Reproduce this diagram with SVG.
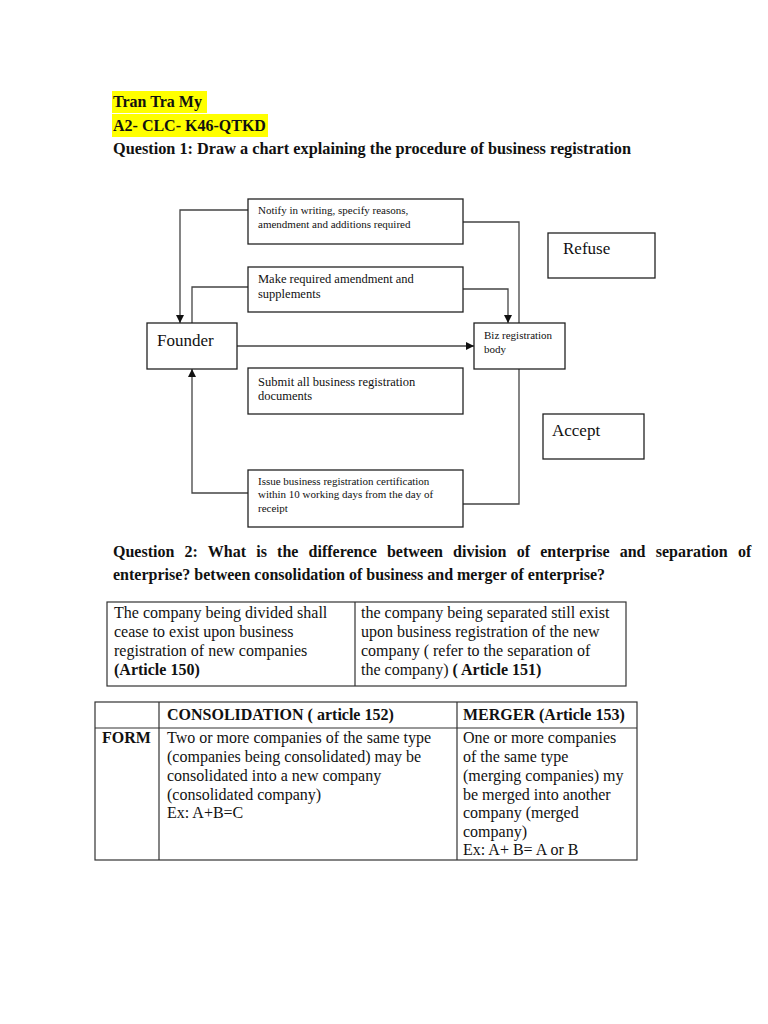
<svg xmlns="http://www.w3.org/2000/svg" width="768" height="1024" viewBox="0 0 768 1024">
<style>
.t{font-family:"Liberation Serif","Times New Roman",serif;fill:#111}
.b{font-weight:bold}
.h16{font-size:16px}
.box{fill:#fff;stroke:#222;stroke-width:1.3}
.con{fill:none;stroke:#444;stroke-width:1.3}
.grid{fill:none;stroke:#333;stroke-width:1.2}
.hl{fill:#ffff00}
</style>
<defs>
<marker id="arr" markerWidth="8" markerHeight="8" refX="8" refY="4" orient="auto" markerUnits="userSpaceOnUse">
<path d="M0,0 L8,4 L0,8 z" fill="#111"/>
</marker>
</defs>
<rect width="768" height="1024" fill="#fff"/>

<g id="header">
<rect class="hl" x="112" y="91" width="95" height="22"/>
<rect class="hl" x="112" y="114" width="156" height="23"/>
<text class="t b h16" x="113" y="107">Tran Tra My</text>
<text class="t b h16" x="113" y="131">A2- CLC- K46-QTKD</text>
<text class="t b h16" x="113" y="154" textLength="518" lengthAdjust="spacingAndGlyphs">Question 1: Draw a chart explaining the procedure of business registration</text>
</g>

<g id="connectors">
<polyline class="con" points="248,210 180,210 180,323" marker-end="url(#arr)"/>
<polyline class="con" points="519,323 519,222 463,222"/>
<polyline class="con" points="192,323 192,287 248,287"/>
<polyline class="con" points="463,289 508,289 508,323" marker-end="url(#arr)"/>
<line class="con" x1="237" y1="346" x2="474" y2="346" marker-end="url(#arr)"/>
<polyline class="con" points="519,369 519,504 463,504"/>
<polyline class="con" points="248,493 192,493 192,369" marker-end="url(#arr)"/>
</g>

<g id="notify">
<rect class="box" x="248" y="199" width="215" height="45"/>
<text class="t" font-size="11" x="258" y="214">Notify in writing, specify reasons,</text>
<text class="t" font-size="11" x="258" y="228">amendment and additions required</text>
</g>
<g id="make">
<rect class="box" x="248" y="267" width="215" height="45"/>
<text class="t" font-size="12.5" x="258" y="283">Make required amendment and</text>
<text class="t" font-size="12.5" x="258" y="298">supplements</text>
</g>
<g id="founder">
<rect class="box" x="147" y="323" width="90" height="46"/>
<text class="t" font-size="17" x="157" y="346">Founder</text>
</g>
<g id="biz">
<rect class="box" x="474" y="323" width="91" height="46"/>
<text class="t" font-size="11" x="484" y="339">Biz registration</text>
<text class="t" font-size="11" x="484" y="353">body</text>
</g>
<g id="submit">
<rect class="box" x="248" y="368" width="215" height="46"/>
<text class="t" font-size="12.5" x="258" y="386">Submit all business registration</text>
<text class="t" font-size="12.5" x="258" y="400">documents</text>
</g>
<g id="issue">
<rect class="box" x="248" y="470" width="215" height="57"/>
<text class="t" font-size="11" x="258" y="485">Issue business registration certification</text>
<text class="t" font-size="11" x="258" y="498">within 10 working days from the day of</text>
<text class="t" font-size="11" x="258" y="512">receipt</text>
</g>
<g id="refuse">
<rect class="box" x="548" y="233" width="107" height="45"/>
<text class="t" font-size="17" x="563" y="254">Refuse</text>
</g>
<g id="accept">
<rect class="box" x="543" y="414" width="101" height="45"/>
<text class="t" font-size="17" x="552" y="436">Accept</text>
</g>

<g id="question2">
<text class="t b h16" x="113" y="557" word-spacing="6.2">Question 2: What is the difference between division of enterprise and separation of</text>
<text class="t b h16" x="113" y="580">enterprise? between consolidation of business and merger of enterprise?</text>
</g>

<g id="table1">
<rect class="grid" x="107" y="602" width="519" height="84"/>
<line class="grid" x1="355" y1="602" x2="355" y2="686"/>
<g class="t h16">
<text x="114" y="618">The company being divided shall</text>
<text x="114" y="637">cease to exist upon business</text>
<text x="114" y="656">registration of new companies</text>
<text x="114" y="675" class="b">(Article 150)</text>
<text x="361" y="618">the company being separated still exist</text>
<text x="361" y="637">upon business registration of the new</text>
<text x="361" y="656">company ( refer to the separation of</text>
<text x="361" y="675">the company) <tspan font-weight="bold">( Article 151)</tspan></text>
</g>
</g>

<g id="table2">
<rect class="grid" x="95" y="702" width="542" height="158"/>
<line class="grid" x1="95" y1="728" x2="637" y2="728"/>
<line class="grid" x1="159" y1="702" x2="159" y2="860"/>
<line class="grid" x1="457" y1="702" x2="457" y2="860"/>
<g class="t h16">
<text x="167" y="720" class="b">CONSOLIDATION ( article 152)</text>
<text x="463" y="720" class="b">MERGER (Article 153)</text>
<text x="102" y="743" class="b">FORM</text>
<text x="167" y="743">Two or more companies of the same type</text>
<text x="167" y="762">(companies being consolidated) may be</text>
<text x="167" y="781">consolidated into a new company</text>
<text x="167" y="800">(consolidated company)</text>
<text x="167" y="818">Ex: A+B=C</text>
<text x="463" y="743">One or more companies</text>
<text x="463" y="762">of the same type</text>
<text x="463" y="781">(merging companies) my</text>
<text x="463" y="800">be merged into another</text>
<text x="463" y="818">company (merged</text>
<text x="463" y="837">company)</text>
<text x="463" y="855">Ex: A+ B= A or B</text>
</g>
</g>
</svg>
